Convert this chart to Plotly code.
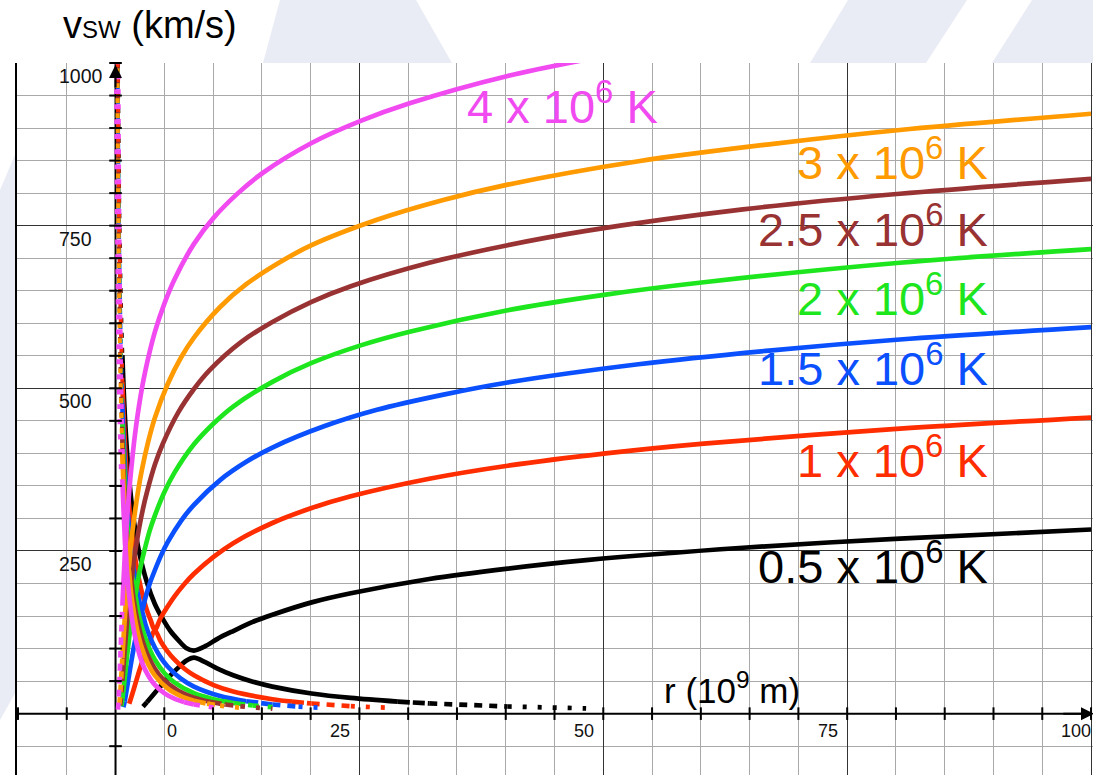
import numpy as np
import plotly.graph_objects as go

# Parker solar-wind solutions, r in 10^9 m, v in km/s.
# "up" arcs: supersonic near the Sun -> sonic point -> wind asymptote
# "lo" arcs: subsonic near the Sun -> sonic point -> decaying breeze

r_up_05 = [0.241, 0.402, 0.563, 0.70, 0.804, 0.965, 1.206, 1.608, 2.01, 2.412, 3.216, 4.02, 4.824, 5.628, 6.432,
           7.236, 8.04, 9.246, 10.45, 12.06, 14.07, 16.08, 20.1, 24.12, 32.16, 40.2, 48.24, 64.32, 80.4, 100]
v_up_05 = [1000, 756, 625, 551, 508, 455, 396, 329, 283, 249, 202, 169, 146, 127, 113,
           101, 97, 104, 115, 127, 141, 152, 171, 185, 207, 223, 236, 255, 269, 283]
r_lo_05 = [2.814, 3.216, 4.02, 4.824, 5.628, 6.432, 7.236, 8.04, 9.246, 10.45, 12.06, 14.07, 16.08, 20.1,
           24.12, 28.94, 32.16, 40.2, 48.24]
v_lo_05 = [10.8, 17.5, 31.7, 45.8, 58.9, 70.7, 81.2, 86, 78.7, 69.1, 58.9, 49.1, 41.6, 31.0,
           24.1, 18.4, 15.7, 11.0, 8.1]

r_up_10 = [0.201, 0.281, 0.402, 0.482, 0.603, 0.70, 0.804, 1.005, 1.206, 1.608, 2.01, 2.412, 2.814, 3.216, 3.618,
           4.02, 4.623, 5.226, 6.03, 7.035, 8.04, 10.05, 12.06, 16.08, 20.1, 24.12, 32.16, 40.2, 50.25, 60.3,
           80.4, 100]
v_up_10 = [1069, 884, 718, 643, 561, 510, 466, 401, 353, 285, 239, 206, 180, 159, 143,
           128.5, 147, 162, 180, 199, 215, 241, 262, 293, 316, 334, 361, 381, 400, 415,
           438, 455]
r_lo_10 = [1.407, 1.608, 2.01, 2.412, 2.814, 3.216, 3.618, 4.02, 4.623, 5.226, 6.03, 7.035, 8.04, 10.05,
           12.06, 16.08, 18.09, 20.1, 24.12, 28.14]
v_lo_10 = [15.3, 24.7, 44.8, 64.8, 83.3, 100, 114.9, 128.5, 111.3, 97.7, 83.3, 69.4, 58.9, 43.9,
           34.0, 22.2, 18.4, 15.6, 11.5, 8.9]

r_up_15 = [0.188, 0.268, 0.322, 0.402, 0.536, 0.70, 0.804, 1.072, 1.34, 1.608, 1.876, 2.144, 2.412, 2.68,
           3.082, 3.484, 4.02, 4.69, 5.36, 6.7, 8.04, 10.72, 13.4, 16.08, 21.44, 26.8, 33.5, 40.2, 53.6,
           67, 80.4, 100]
v_up_15 = [1083, 880, 788, 687, 571, 477, 432, 349, 293, 252, 220, 195, 175, 157.4,
           179, 199, 220, 244, 264, 296, 321, 359, 387, 409, 442, 467, 490, 509, 537,
           558, 575, 594]
r_lo_15 = [0.804, 0.938, 1.072, 1.34, 1.608, 1.876, 2.144, 2.412, 2.68, 3.082, 3.484, 4.02, 4.69, 5.36,
           6.7, 8.04, 10.72, 13.4, 16.08, 18.76, 21.44]
v_lo_15 = [10, 18.7, 30.3, 54.9, 79.3, 102, 122.5, 140.7, 157.4, 136.3, 119.6, 102, 85, 72.1,
           53.8, 41.7, 27.2, 19.1, 14.1, 10.8, 8.6]

r_up_20 = [0.201, 0.241, 0.302, 0.402, 0.503, 0.603, 0.704, 0.804, 1.005, 1.206, 1.407, 1.608, 1.809, 2.01,
           2.312, 2.613, 3.015, 3.518, 4.02, 5.025, 6.03, 8.04, 10.05, 12.06, 16.08, 20.1, 25.13, 30.15,
           40.2, 50.25, 60.3, 80.4, 100]
v_up_20 = [1016, 910, 793, 659, 567, 499, 446, 403, 339, 291, 254, 225, 202, 181.7,
           207, 229, 254, 282, 304, 341, 370, 414, 446, 472, 510, 539, 566, 587,
           620, 644, 663, 693, 714]
r_lo_20 = [0.603, 0.704, 0.804, 1.005, 1.206, 1.407, 1.608, 1.809, 2.01, 2.312, 2.613, 3.015, 3.518, 4.02,
           5.025, 6.03, 8.04, 10.05, 12.06, 14.07, 16.08]
v_lo_20 = [11.6, 22.1, 35, 63.4, 91.6, 117.7, 141.4, 162.4, 181.7, 157.4, 138.1, 117.7, 98.1, 83.2,
           62.1, 48.1, 31.3, 22, 16.3, 12.5, 9.9]

r_up_25 = [0.193, 0.241, 0.322, 0.402, 0.482, 0.563, 0.643, 0.70, 0.804, 0.965, 1.126, 1.286, 1.447, 1.608,
           1.849, 2.09, 2.412, 2.814, 3.216, 4.02, 4.824, 6.432, 8.04, 9.648, 12.86, 16.08, 20.1, 24.12,
           32.16, 40.2, 48.24, 64.32, 80.4, 100]
v_up_25 = [1017, 886, 737, 634, 558, 499, 451, 423, 379, 325, 285, 252, 225, 203.2,
           232, 256, 285, 315, 340, 382, 414, 463, 499, 528, 571, 602, 633, 657,
           693, 720, 742, 775, 799, 822]
r_lo_25 = [0.482, 0.563, 0.643, 0.70, 0.804, 0.965, 1.126, 1.286, 1.447, 1.608, 1.849, 2.09, 2.412, 2.814,
           3.216, 4.02, 4.824, 6.432, 8.04, 9.648, 11.26, 12.86, 16.08]
v_lo_25 = [12.9, 24.7, 39.1, 50, 70.9, 102.4, 131.7, 158.1, 181.7, 203.2, 176, 154.4, 131.7, 109.7,
           93.1, 69.4, 53.8, 35.1, 24.6, 18.2, 14, 11.1, 7.5]

r_up_30 = [0.174, 0.201, 0.268, 0.335, 0.402, 0.536, 0.70, 0.804, 0.938, 1.072, 1.206, 1.34, 1.541, 1.742,
           2.01, 2.345, 2.68, 3.35, 4.02, 5.36, 6.7, 8.04, 10.72, 13.4, 16.75, 20.1, 26.8, 33.5, 40.2,
           53.6, 67, 80.4, 100]
v_up_30 = [1061, 971, 807, 694, 611, 494, 400, 356, 312, 276, 247, 222.6, 254, 281,
           312, 345, 373, 418, 454, 507, 547, 578, 625, 660, 693, 720, 759, 789, 813,
           849, 875, 897, 922]
r_lo_30 = [0.402, 0.469, 0.536, 0.67, 0.70, 0.804, 0.938, 1.072, 1.206, 1.34, 1.541, 1.742, 2.01, 2.345,
           2.68, 3.35, 4.02, 5.36, 6.7, 8.04, 9.38, 10.72, 13.4]
v_lo_30 = [14.2, 27.1, 42.8, 77.7, 85.5, 112.2, 144.2, 173.2, 199, 222.6, 192.8, 169.2, 144.2, 120.2,
           101.9, 76, 58.9, 38.4, 27, 19.9, 15.3, 12.2, 8.2]

r_up_40 = [0.151, 0.181, 0.201, 0.251, 0.302, 0.402, 0.503, 0.603, 0.704, 0.804, 0.905, 1.005, 1.156, 1.307,
           1.508, 1.759, 2.01, 2.513, 3.015, 4.02, 5.025, 6.03, 8.04, 10.05, 12.56, 15.08, 20.1, 25.13,
           30.15, 40.2, 50.25]
v_up_40 = [1121, 998, 932, 802, 706, 571, 479, 412, 360, 319, 285, 257, 293, 324,
           360, 398, 431, 483, 524, 586, 631, 667, 722, 762, 800, 831, 877, 911,
           938, 980, 1011]
r_lo_40 = [0.251, 0.302, 0.352, 0.402, 0.503, 0.603, 0.704, 0.804, 0.905, 1.005, 1.156, 1.307, 1.508, 1.759,
           2.01, 2.513, 3.015, 4.02, 5.025, 6.03, 7.035, 8.04, 10.05]
v_lo_40 = [6.2, 16.3, 31.3, 49.4, 89.7, 129.5, 166.5, 200, 229.8, 257, 222.6, 195.3, 166.5, 138.8,
           117.7, 87.8, 68.1, 44.3, 31.1, 23, 17.7, 14, 9.4]

temps = ["0.5", "1", "1.5", "2", "2.5", "3", "4"]
colors = ["#000000", "#ff2d00", "#0a50ff", "#1ee61e", "#993333", "#ff9a00", "#f04af0"]
curves = [
    (r_up_05, v_up_05, r_lo_05, v_lo_05),
    (r_up_10, v_up_10, r_lo_10, v_lo_10),
    (r_up_15, v_up_15, r_lo_15, v_lo_15),
    (r_up_20, v_up_20, r_lo_20, v_lo_20),
    (r_up_25, v_up_25, r_lo_25, v_lo_25),
    (r_up_30, v_up_30, r_lo_30, v_lo_30),
    (r_up_40, v_up_40, r_lo_40, v_lo_40),
]
# label anchor (right edge, km/s level of the text middle)
label_x = [89.6, 89.6, 89.6, 89.6, 89.6, 89.6, 55.8]
label_y = [222, 386, 527, 634, 741, 843, 930]

R_SUN = 0.7
SLOW = 20.0
LW = 4.7

fig = go.Figure()
late = []   # segments drawn on top (near-Sun dotted parts)


def seg(r, v, i0, i1, color, dash="solid", width=LW):
    if i1 <= i0:
        return None
    return go.Scatter(
        x=r[i0:i1 + 1], y=v[i0:i1 + 1], mode="lines",
        line=dict(color=color, width=width, dash=dash, shape="spline", smoothing=0.9),
        hoverinfo="skip", showlegend=False)


def add(tr, later=False):
    if tr is None:
        return
    if later:
        late.append(tr)
    else:
        fig.add_trace(tr)


n_curves = len(curves)
for idx, ((ru, vu, rl, vl), col) in enumerate(zip(curves, colors)):
    top = idx == n_curves - 1
    # upper arc: dotted inside the Sun, solid outside
    k = next(i for i, r in enumerate(ru) if r >= R_SUN - 0.01)
    add(seg(ru, vu, 0, k, col, dash="5px,10px", width=6.5 if top else 4.0), later=True)
    add(seg(ru, vu, k, len(ru) - 1, col))

    # lower arc: dashed start, solid middle, fading dashed tail
    ic = int(np.argmax(vl))
    h = 0
    for i in range(ic):
        if rl[i] <= R_SUN + 0.01 or vl[i] < SLOW:
            h = i
    add(seg(rl, vl, 0, h, col, dash="7px,6px"), later=True)
    t = next((i for i in range(ic, len(rl)) if vl[i] < SLOW), len(rl) - 1)
    add(seg(rl, vl, h, t, col))
    n_tail = len(rl) - 1 - t
    for j in range(n_tail):
        on = max(1, round(12 * (1 - j / max(n_tail, 1))))
        add(seg(rl, vl, t + j, t + j + 1, col, dash=f"{on}px,{15 - on}px"))

for tr in late:
    fig.add_trace(tr)

# tick marks along the drawn axes
xt = [x for x in np.arange(-10, 101, 5) if x != 0]
yt = [y for y in np.arange(-50, 1001, 50) if y != 0]
fig.add_trace(go.Scatter(x=xt, y=[0] * len(xt), mode="markers", cliponaxis=False,
                         marker=dict(symbol="line-ns", size=9, line=dict(color="black", width=2)),
                         hoverinfo="skip", showlegend=False))
fig.add_trace(go.Scatter(x=[0] * len(yt), y=yt, mode="markers", cliponaxis=False,
                         marker=dict(symbol="line-ew", size=9, line=dict(color="black", width=2)),
                         hoverinfo="skip", showlegend=False))

FONT = "Liberation Sans, Arial, Helvetica, sans-serif"
PL, PT = 17, 63
W, H = 1093, 775

ann = []
for t_lbl, col, lx, ly in zip(temps, colors, label_x, label_y):
    ann.append(dict(x=lx, y=ly, xref="x", yref="y", xanchor="right", yanchor="middle", yshift=6,
                    text=f"{t_lbl} x 10<sup>6</sup> K", showarrow=False,
                    font=dict(family=FONT, size=47, color=col)))

# axis tick labels
x_ticks = [0, 25, 50, 75, 100]
x_tick_text = ["0", "25", "50", "75", "100"]
for xv, tx in zip(x_ticks, x_tick_text):
    if xv == 0:
        ann.append(dict(x=5, y=0, xref="x", yref="y", xanchor="left", yanchor="middle", xshift=1,
                        yshift=-17, text=tx, showarrow=False, font=dict(family=FONT, size=18, color="#111")))
    else:
        ann.append(dict(x=xv, y=0, xref="x", yref="y", xanchor="right", yanchor="middle",
                        xshift=-7 if xv < 100 else 2, yshift=-17, text=tx, showarrow=False,
                        font=dict(family=FONT, size=18, color="#111")))
y_ticks = [250, 500, 750, 1000]
y_tick_text = ["250", "500", "750", "1000"]
for yv, tx in zip(y_ticks, y_tick_text):
    ann.append(dict(x=-6.0, y=yv, xref="x", yref="y", xanchor="left", yanchor="middle", yshift=-13,
                    text=tx, showarrow=False, font=dict(family=FONT, size=19.5, color="#111")))

# axis titles
ann.append(dict(x=70.4, y=39, xref="x", yref="y", xanchor="right", yanchor="middle",
                text="r (10<sup>9</sup> m)", showarrow=False, font=dict(family=FONT, size=35, color="black")))
ann.append(dict(x=(61 - PL) / (W - PL), y=(H - 25) / (H - PT), xref="paper", yref="paper",
                xanchor="left", yanchor="middle",
                text='v<span style="font-size:24px">SW</span> (km/s)', showarrow=False,
                font=dict(family=FONT, size=38, color="black")))

# axis arrows
ann.append(dict(x=100.3, y=0, ax=97.0, ay=0, xref="x", yref="y", axref="x", ayref="y", text="",
                showarrow=True, arrowhead=2, arrowsize=1.3, arrowwidth=2, arrowcolor="black"))
ann.append(dict(x=0, y=997, ax=0, ay=960, xref="x", yref="y", axref="x", ayref="y", text="",
                showarrow=True, arrowhead=2, arrowsize=1.3, arrowwidth=2, arrowcolor="black"))

shapes = [
    dict(type="line", xref="x", yref="y", x0=-10.1, x1=100, y0=0, y1=0,
         line=dict(color="black", width=2), layer="between"),
    dict(type="line", xref="x", yref="y", x0=0, x1=0, y0=-95, y1=1000,
         line=dict(color="black", width=2), layer="between"),
]


def pp(px, py):
    return f"{(px - PL) / (W - PL):.4f},{(H - py) / (H - PT):.4f}"


# faint background emblem outside the plotting area
WM = "#eaecf5"
for poly in [
    [(280, 0), (416, 0), (452, 63), (263, 63)],
    [(848, 0), (967, 0), (926, 63), (810, 63)],
    [(1032, 0), (1093, 0), (1093, 63), (992, 63)],
    [(0, 190), (17, 150), (17, 690), (0, 720)],
]:
    path = "M " + " L ".join(pp(a, b) for a, b in poly) + " Z"
    shapes.append(dict(type="path", xref="paper", yref="paper", path=path,
                       fillcolor=WM, line=dict(width=0), layer="below"))

fig.update_layout(
    width=W, height=H,
    margin=dict(l=PL, r=0, t=PT, b=0),
    paper_bgcolor="white", plot_bgcolor="white",
    showlegend=False,
    annotations=ann, shapes=shapes,
    xaxis=dict(range=[-10.1, 100.2], tick0=0, dtick=25, showticklabels=False, ticks="",
               showgrid=True, gridcolor="#333333", gridwidth=1, zeroline=False, showline=False,
               minor=dict(dtick=5, tick0=0, showgrid=True, gridcolor="#a9a9a9", gridwidth=1.3)),
    yaxis=dict(range=[-94.3, 1000], tick0=0, dtick=250, showticklabels=False, ticks="",
               showgrid=True, gridcolor="#333333", gridwidth=1, zeroline=False,
               showline=True, linecolor="black", linewidth=1.5,
               minor=dict(dtick=50, tick0=0, showgrid=True, gridcolor="#a9a9a9", gridwidth=1.3)),
)

fig.write_html("out.html")
